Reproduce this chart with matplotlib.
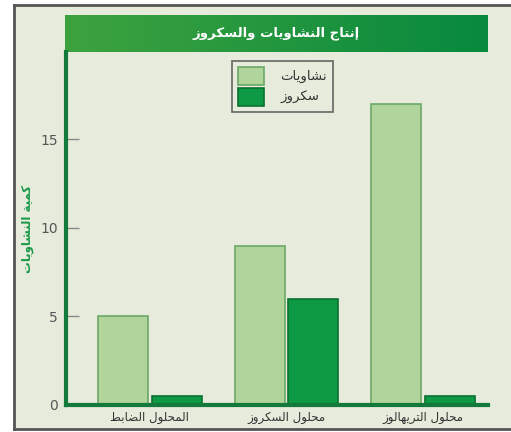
import unicodedata
import numpy as np
import matplotlib
matplotlib.use("Agg")
import matplotlib.pyplot as plt

# ─── DATA ────────────────────────────────────────────────────────────────
CATEGORIES = ["المحلول الضابط", "محلول السكروز", "محلول التريهالوز"]
STARCH = [5, 9, 17]
SUCROSE = [0.5, 6, 0.5]
SERIES_NAMES = ["نشاويات", "سكروز"]
TITLE = "إنتاج النشاويات والسكروز"
YLABEL = "كمية النشاويات"
YTICKS = [0, 5, 10, 15]


# ─── ARABIC SHAPING (matplotlib has no text shaping) ─────────────────────
def _build_forms():
    forms = {}
    for cp in range(0xFE70, 0xFF00):
        dec = unicodedata.decomposition(chr(cp))
        if not dec.startswith("<"):
            continue
        tag, *codes = dec.split()
        if len(codes) != 1:
            continue
        base = chr(int(codes[0], 16))
        forms.setdefault(base, {})[tag.strip("<>")] = chr(cp)
    return forms


FORMS = _build_forms()


def ar(text):
    out = []
    for i, ch in enumerate(text):
        f = FORMS.get(ch)
        if not f:
            out.append(ch)
            continue
        prev = text[i - 1] if i > 0 else ""
        nxt = text[i + 1] if i + 1 < len(text) else ""
        prev_joins = prev in FORMS and "medial" in FORMS[prev]
        next_joins = "medial" in f and nxt in FORMS
        if prev_joins and next_joins:
            out.append(f.get("medial", ch))
        elif prev_joins:
            out.append(f.get("final", ch))
        elif next_joins:
            out.append(f.get("initial", ch))
        else:
            out.append(f.get("isolated", ch))
    return "".join(reversed(out))


BG = "#e6ebdc"
STARCH_COLOR = "#b0d49a"
STARCH_EDGE = "#6aa868"
SUCROSE_COLOR = "#0e9a44"
SUCROSE_EDGE = "#0a7032"
SPINE = "#137a3c"

fig = plt.figure(figsize=(5.11, 4.32), dpi=100)
fig.patch.set_facecolor("white")

# outer frame: left/top/bottom only, right edge runs off the picture
bg = fig.add_axes([14 / 511, 1 - 429 / 432, 1 - 14 / 511, (429 - 5) / 432])
bg.set_facecolor(BG)
bg.set_xticks([])
bg.set_yticks([])
bg.spines["right"].set_visible(False)
for s in ["left", "top", "bottom"]:
    bg.spines[s].set_color("#555555")
    bg.spines[s].set_linewidth(2)

# title banner with gradient
ban = fig.add_axes([65 / 511, 1 - 52 / 432, (488 - 65) / 511, (52 - 15) / 432])
grad = np.linspace(0, 1, 256).reshape(1, -1)
cmap = matplotlib.colors.LinearSegmentedColormap.from_list("ban", ["#3ea33f", "#07893e"])
ban.imshow(grad, aspect="auto", cmap=cmap, extent=[0, 1, 0, 1])
ban.set_axis_off()
ban.text(0.5, 0.5, ar(TITLE), color="white", fontsize=9.5, fontweight="bold",
         ha="center", va="center", family="DejaVu Sans")

ax = fig.add_axes([66 / 511, 1 - 405 / 432, (488 - 66) / 511, (405 - 52) / 432])
ax.set_facecolor("none")

x = np.arange(len(CATEGORIES))
w = 0.365
off = 0.197
ax.bar(x - off, STARCH, w, color=STARCH_COLOR, edgecolor=STARCH_EDGE,
       linewidth=1.2, label=ar(SERIES_NAMES[0]), zorder=2)
ax.bar(x + off, SUCROSE, w, color=SUCROSE_COLOR, edgecolor=SUCROSE_EDGE,
       linewidth=1.2, label=ar(SERIES_NAMES[1]), zorder=2)

ax.set_xlim(-0.613, 2.474)
ax.set_ylim(0, 19.93)

for s in ["top", "right"]:
    ax.spines[s].set_visible(False)
for s in ["left", "bottom"]:
    ax.spines[s].set_color(SPINE)
    ax.spines[s].set_linewidth(3)
    ax.spines[s].set_zorder(3)

ax.set_yticks(YTICKS)
ax.tick_params(axis="y", direction="in", length=9, width=1, color="#888888",
               labelsize=10, labelcolor="#555555", pad=6)
ax.set_xticks(x)
ax.set_xticklabels([ar(c) for c in CATEGORIES], fontsize=8.5, color="#333333")
ax.tick_params(axis="x", length=0, pad=4)
ax.set_ylabel(ar(YLABEL), color="#1a9a4a", fontsize=8.5, fontweight="bold")
ax.yaxis.set_label_coords(-0.075, 0.5)

leg = ax.legend(loc="upper left", bbox_to_anchor=(0.393, 0.975), frameon=True,
                fontsize=9.5, handlelength=2.0, handleheight=1.7,
                borderpad=0.45, labelspacing=0.25, handletextpad=1.2,
                borderaxespad=0, fancybox=False)
leg.get_frame().set_edgecolor("#444444")
leg.get_frame().set_facecolor(BG)
leg.get_frame().set_linewidth(1.2)
for t in leg.get_texts():
    t.set_color("#333333")

fig.savefig("out.png", dpi=100)
